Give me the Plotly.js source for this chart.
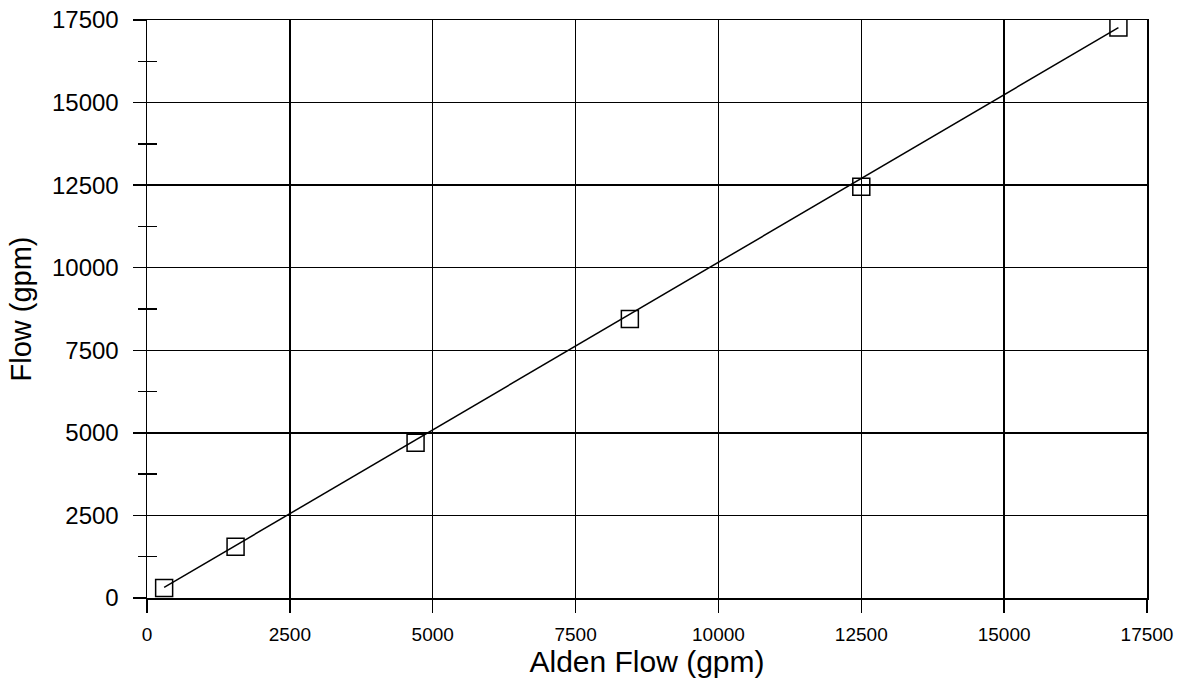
<!DOCTYPE html>
<html><head><meta charset="utf-8">
<script src="https://cdn.plot.ly/plotly-3.0.1.min.js"></script>
<style>html,body{margin:0;padding:0;background:#fff}#chart{width:1183px;height:686px}</style>
</head><body><div id="chart"></div>
<script>
const aldenFlow = [300, 1550, 4700, 8450, 12500, 17000];
const meterFlow = [300, 1550, 4700, 8450, 12450, 17270];
const fitX = [300, 17000];
const fitY = [320, 17270];
const tickVals = [0, 2500, 5000, 7500, 10000, 12500, 15000, 17500];
const tickText = ['0', '2500', '5000', '7500', '10000', '12500', '15000', '17500'];

const font = 'Liberation Sans, Arial, Helvetica, sans-serif';
const traces = [
  {x: fitX, y: fitY, mode: 'lines', line: {color: '#000', width: 1.5}, hoverinfo: 'skip', showlegend: false},
  {x: aldenFlow, y: meterFlow, mode: 'markers', marker: {symbol: 'square-open', size: 17, color: '#000', line: {width: 1.5, color: '#000'}}, showlegend: false},
  {x: [0], y: [0], yaxis: 'y2', mode: 'markers', marker: {opacity: 0}, hoverinfo: 'skip', showlegend: false}
];
const layout = {
  width: 1183, height: 686,
  margin: {l: 147, r: 36, t: 20, b: 88},
  paper_bgcolor: '#fff', plot_bgcolor: '#fff',
  font: {family: font, color: '#000'},
  xaxis: {
    range: [0, 17500], tickvals: tickVals, ticktext: tickText,
    showgrid: true, gridcolor: '#000', gridwidth: 1.5,
    showline: true, linecolor: '#000', linewidth: 1.5, mirror: true,
    ticks: 'outside', ticklen: 13, tickcolor: '#000', tickwidth: 1.5,
    tickfont: {size: 19}, ticklabelstandoff: 6, zeroline: false,
    title: {text: 'Alden Flow (gpm)', font: {size: 30}, standoff: 4}
  },
  yaxis: {
    range: [0, 17500], tickvals: tickVals, ticktext: tickText,
    showgrid: true, gridcolor: '#000', gridwidth: 1.5,
    showline: true, linecolor: '#000', linewidth: 1.5, mirror: true,
    ticks: 'outside', ticklen: 13, tickcolor: '#000', tickwidth: 1.5,
    tickfont: {size: 24}, ticklabelstandoff: 9, zeroline: false,
    minor: {dtick: 1250, ticks: 'outside', ticklen: 8, tickcolor: '#000', tickwidth: 1.5, showgrid: false},
    title: {text: 'Flow (gpm)', font: {size: 29}, standoff: 12}
  },
  yaxis2: {
    overlaying: 'y', side: 'left', range: [0, 17500], dtick: 1250, tick0: 0,
    ticks: 'inside', ticklen: 10, tickcolor: '#000', tickwidth: 1.5,
    showticklabels: false, showgrid: false, zeroline: false, showline: false
  }
};
Plotly.newPlot('chart', traces, layout, {displayModeBar: false, staticPlot: true});
</script></body></html>
